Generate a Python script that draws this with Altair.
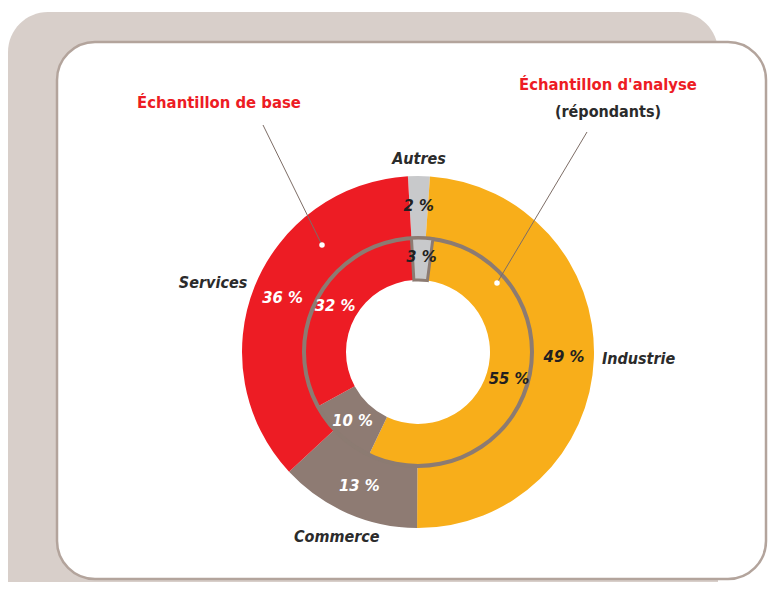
import math
import altair as alt
import pandas as pd

# ---------------- data ----------------
categories = ["Autres", "Industrie", "Commerce", "Services"]
base_pct = [2, 49, 13, 36]        # Échantillon de base (outer ring)
analyse_pct = [3, 55, 10, 32]     # Échantillon d'analyse (inner ring)
colors = ["#c8c9cb", "#f8ae1a", "#8e7b73", "#ed1c24"]
pct_text_colors = ["#231f20", "#231f20", "#ffffff", "#ffffff"]

title_base = "Échantillon de base"
title_analyse = "Échantillon d'analyse"
subtitle_analyse = "(répondants)"

rows = []
for ring, vals in (("base", base_pct), ("analyse", analyse_pct)):
    cum = 0
    for c, v, tc in zip(categories, vals, pct_text_colors):
        rows.append(dict(ring=ring, cat=c, value=v, start=cum, end=cum + v,
                         mid=cum + v / 2, label=f"{v} %", tcolor=tc))
        cum += v
df = pd.DataFrame(rows)
one = pd.DataFrame({"k": [0]})

# ---------------- styles ----------------
FONT = "Liberation Sans Narrow, DejaVu Sans Condensed, Arial Narrow, sans-serif"
OFF = math.radians(-3.3)
theta_scale = alt.Scale(domain=[0, 100], range=[OFF, OFF + 2 * math.pi])
color_scale = alt.Scale(domain=categories, range=colors)
RING_COL = "#8c7b72"

# ---------------- background frames ----------------
beige = alt.Chart(one).mark_rect(cornerRadius=40, color="#d8cfca").encode(
    x=alt.value(-60), x2=alt.value(650), y=alt.value(-110), y2=alt.value(500))
white = alt.Chart(one).mark_rect(cornerRadius=38, fill="white", stroke="#b3a49c",
                                 strokeWidth=2.5).encode(
    x=alt.value(-11), x2=alt.value(698), y=alt.value(-80), y2=alt.value(457))

# ---------------- rings ----------------
src = alt.Chart(df)
outer = src.transform_filter("datum.ring == 'base'").mark_arc(
    outerRadius=176, innerRadius=115, strokeWidth=0).encode(
    theta=alt.Theta("start:Q", scale=theta_scale), theta2="end:Q",
    color=alt.Color("cat:N", scale=color_scale, legend=None))
inner = src.transform_filter("datum.ring == 'analyse'").mark_arc(
    outerRadius=113, innerRadius=72, strokeWidth=0).encode(
    theta=alt.Theta("start:Q", scale=theta_scale), theta2="end:Q",
    color=alt.Color("cat:N", scale=color_scale, legend=None))
ring_line = alt.Chart(one).mark_arc(
    outerRadius=116, innerRadius=112, theta=0, theta2=2 * math.pi).encode(
    color=alt.value(RING_COL))
autres_inner = src.transform_filter(
    "datum.ring == 'analyse' && datum.cat == 'Autres'").mark_arc(
    outerRadius=114, innerRadius=72, stroke=RING_COL, strokeWidth=3).encode(
    theta=alt.Theta("start:Q", scale=theta_scale), theta2="end:Q",
    color=alt.Color("cat:N", scale=color_scale, legend=None))

# ---------------- percentage labels ----------------
def pct_layer(ring, r):
    return src.transform_filter(f"datum.ring == '{ring}'").mark_text(
        font=FONT, fontSize=16.5, fontStyle="italic", fontWeight="bold",
        baseline="middle", align="center").encode(
        theta=alt.Theta("mid:Q", scale=theta_scale),
        radius=alt.value(r),
        text="label:N",
        color=alt.Color("tcolor:N", scale=None))

pct_outer = pct_layer("base", 146)
pct_inner = pct_layer("analyse", 95)

# ---------------- category labels ----------------
cat_layers = []
for cat, align, r in (("Autres", "center", 193), ("Industrie", "left", 184),
                      ("Commerce", "center", 202), ("Services", "right", 184)):
    cat_layers.append(
        src.transform_filter(f"datum.ring == 'base' && datum.cat == '{cat}'").mark_text(
            font=FONT, fontSize=16, fontStyle="italic", fontWeight="bold",
            color="#2b2b2b", align=align, baseline="middle").encode(
            theta=alt.Theta("mid:Q", scale=theta_scale),
            radius=alt.value(r),
            text="cat:N"))

# ---------------- titles & leaders ----------------
def txt(s, x, y, color, size=16.5):
    return alt.Chart(one).mark_text(
        text=s, font=FONT, fontSize=size, fontWeight="bold", color=color,
        align="center", baseline="middle").encode(x=alt.value(x), y=alt.value(y))

t1 = txt(title_base, 151, -19, "#ed1c24")
t2 = txt(title_analyse, 540, -37, "#ed1c24")
t3 = txt(subtitle_analyse, 540, -10, "#2b2b2b", 16)

lead1 = alt.Chart(one).mark_rule(color="#7d6d66", strokeWidth=1).encode(
    x=alt.value(195), y=alt.value(3), x2=alt.value(254), y2=alt.value(123))
lead2 = alt.Chart(one).mark_rule(color="#7d6d66", strokeWidth=1).encode(
    x=alt.value(519), y=alt.value(10), x2=alt.value(429), y2=alt.value(161))
dots = alt.Chart(pd.DataFrame({"px": [254, 429], "py": [123, 161]})).mark_circle(
    color="white", opacity=1, size=30).encode(
    x=alt.X("px:Q", scale=None), y=alt.Y("py:Q", scale=None))

chart = alt.layer(
    beige, white, outer, inner, ring_line, autres_inner,
    pct_outer, pct_inner, *cat_layers, t1, t2, t3, lead1, lead2, dots
).properties(
    width=700, height=460,
    padding={"left": 60, "top": 114, "right": 0, "bottom": 0},
    autosize="none", background="white"
).configure_view(stroke=None)

chart.save("out.html", embed_options={"renderer": "svg", "actions": False})
